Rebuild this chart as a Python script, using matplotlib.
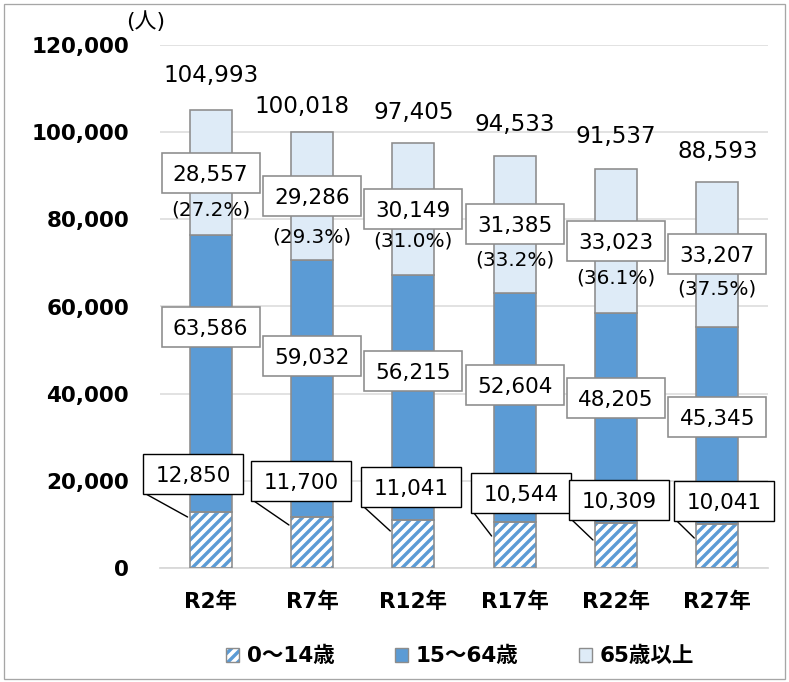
import matplotlib
matplotlib.use("Agg")
import matplotlib.pyplot as plt
import matplotlib.transforms as mtransforms
from matplotlib.patches import Rectangle, ConnectionPatch, Patch
from matplotlib.legend_handler import HandlerTuple

# ---------------- data ----------------
categories = ["R2年", "R7年", "R12年", "R17年", "R22年", "R27年"]
young = [12850, 11700, 11041, 10544, 10309, 10041]          # 0~14歳
working = [63586, 59032, 56215, 52604, 48205, 45345]        # 15~64歳
elderly = [28557, 29286, 30149, 31385, 33023, 33207]        # 65歳以上
totals = [104993, 100018, 97405, 94533, 91537, 88593]
elderly_pct = ["(27.2%)", "(29.3%)", "(31.0%)", "(33.2%)", "(36.1%)", "(37.5%)"]
series_names = ["0～14歳", "15～64歳", "65歳以上"]
yticks = [0, 20000, 40000, 60000, 80000, 100000, 120000]

# ---------------- label layout (data units) ----------------
total_label_y = [112900, 106000, 104400, 101650, 98900, 95450]
total_label_dx = [0, -0.1, 0, 0, 0, 0]
pct_label_y = [82140, 75950, 75030, 70670, 66540, 64020]
working_label_y = [55300, 48640, 45200, 41990, 39010, 34650]
young_box_dx = [-0.175, -0.109, -0.023, 0.062, 0.030, 0.065]
young_box_y = [21570, 19960, 18590, 17210, 15600, 15370]
young_leader_y = [11700, 9870, 8490, 7340, 6430, 6880]

# ---------------- style ----------------
DPI = 120
W, H = 789, 682


def pt(v):
    return v * 72.0 / DPI


plt.rcParams["font.family"] = ["DejaVu Sans", "Noto Sans CJK JP"]
plt.rcParams["hatch.linewidth"] = pt(3.4)

C_YOUNG = "#5b9bd5"
C_WORK = "#5b9bd5"
C_OLD = "#deebf7"
C_EDGE = "#8c8c8c"
C_GRID = "#d9d9d9"

fig = plt.figure(figsize=(W / DPI, H / DPI), dpi=DPI)
ax = fig.add_axes([160 / W, 1 - 568 / H, 608 / W, 523 / H])

x = list(range(len(categories)))
bw = 0.415

# bars
ax.bar(x, young, bw, color="white", edgecolor=C_YOUNG, hatch="////", linewidth=0, zorder=2)
ax.bar(x, young, bw, fill=False, edgecolor=C_EDGE, linewidth=pt(1.6), zorder=3)
ax.bar(x, working, bw, bottom=young, color=C_WORK, edgecolor=C_EDGE, linewidth=pt(1.6), zorder=2)
bottom_old = [a + b for a, b in zip(young, working)]
ax.bar(x, elderly, bw, bottom=bottom_old, color=C_OLD, edgecolor=C_EDGE, linewidth=pt(1.6), zorder=2)

ax.set_xlim(-0.5, len(categories) - 0.5)
ax.set_ylim(0, 120000)
ax.set_yticks(yticks)
ax.set_yticklabels([f"{v:,}" for v in yticks], fontsize=pt(21.5), fontweight="bold")
ax.set_xticks(x)
ax.set_xticklabels(categories, fontsize=pt(21.5), fontweight="bold")
ax.tick_params(axis="both", length=0)
ax.tick_params(axis="y", pad=pt(31))
ax.tick_params(axis="x", pad=pt(24))
ax.grid(axis="y", color=C_GRID, linewidth=pt(1.5))
ax.set_axisbelow(True)
for s in ["top", "left", "right"]:
    ax.spines[s].set_visible(False)
ax.spines["bottom"].set_color(C_GRID)
ax.spines["bottom"].set_linewidth(pt(1.8))


def fixed_box(xd, yd, text, w, h, ec, lw, fs):
    trans = fig.dpi_scale_trans + mtransforms.ScaledTranslation(xd, yd, ax.transData)
    r = Rectangle((-w / 2 / DPI, -h / 2 / DPI), w / DPI, h / DPI, transform=trans,
                  facecolor="white", edgecolor=ec, linewidth=lw, zorder=5, clip_on=False)
    ax.add_patch(r)
    ax.text(xd, yd, text, ha="center", va="center_baseline", fontsize=fs, color="black",
            zorder=6, clip_on=False)
    return trans


for i in x:
    # totals
    ax.text(i + total_label_dx[i], total_label_y[i], f"{totals[i]:,}", ha="center", va="center",
            fontsize=pt(23), color="black", zorder=6)
    # elderly
    ymid = bottom_old[i] + elderly[i] / 2
    fixed_box(i, ymid, f"{elderly[i]:,}", 98, 40, C_EDGE, pt(1.6), pt(21.5))
    ax.text(i, pct_label_y[i], elderly_pct[i], ha="center", va="center", fontsize=pt(20),
            color="black", zorder=6)
    # working
    fixed_box(i, working_label_y[i], f"{working[i]:,}", 98, 40, C_EDGE, pt(1.6), pt(21.5))
    # young with leader line
    bx = i + young_box_dx[i]
    trans = fixed_box(bx, young_box_y[i], f"{young[i]:,}", 100, 40, "black", pt(1.4), pt(21.5))
    con = ConnectionPatch(xyA=(-100 / 2 / DPI + 3 / DPI, -40 / 2 / DPI), coordsA=trans,
                          xyB=(i - bw / 2 - 0.02, young_leader_y[i]), coordsB=ax.transData,
                          arrowstyle="-", color="black", linewidth=pt(1.4), zorder=4)
    ax.add_artist(con)

# unit label
fig.text(146 / W, 1 - 22 / H, "(人)", ha="center", va="center", fontsize=pt(22), color="black")

# legend
h_young = (Patch(facecolor="white", edgecolor=C_YOUNG, hatch="////", linewidth=0),
           Patch(fill=False, edgecolor=C_EDGE, linewidth=pt(1.4)))
h_work = Patch(facecolor=C_WORK, edgecolor=C_EDGE, linewidth=pt(1.4))
h_old = Patch(facecolor=C_OLD, edgecolor=C_EDGE, linewidth=pt(1.4))
leg = fig.legend([h_young, h_work, h_old], series_names, loc="center", ncol=3,
                 bbox_to_anchor=(460 / W, 1 - 656 / H), frameon=False,
                 prop={"size": pt(21.5), "weight": "bold"},
                 handlelength=0.62, handleheight=0.62, handletextpad=0.35, columnspacing=2.8,
                 handler_map={tuple: HandlerTuple(ndivide=1)})

# figure border
fig.patches.append(Rectangle((3.5 / W, 3.5 / H), 1 - 7.5 / W, 1 - 7.5 / H, transform=fig.transFigure,
                             fill=False, edgecolor="#a6a6a6", linewidth=pt(1.3)))

fig.savefig("out.png", dpi=DPI)
